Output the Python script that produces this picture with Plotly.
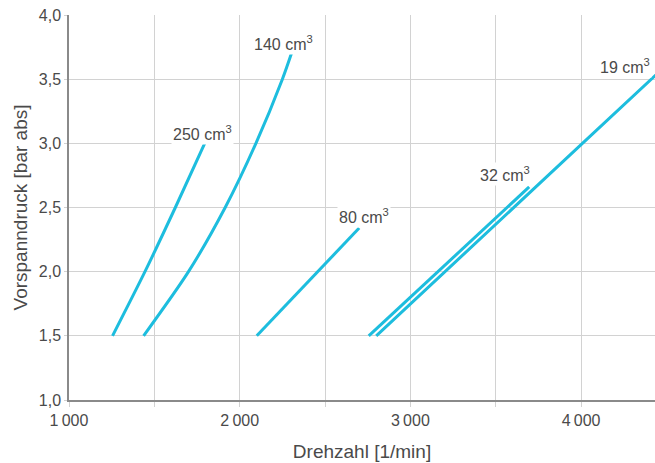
import plotly.graph_objects as go

# ---- data ----
x_250 = [1255, 1445, 1623, 1795]
y_250 = [1.5, 2.0, 2.5, 3.0]

x_140 = [1437, 1700, 1915, 2095, 2250, 2303]
y_140 = [1.5, 2.0, 2.5, 3.0, 3.5, 3.7]

x_80 = [2100, 2700]
y_80 = [1.5, 2.34]

x_32 = [2756, 3696]
y_32 = [1.5, 2.66]

x_19 = [2800, 4000, 4500]
y_19 = [1.5, 2.99, 3.61]

series_names = ["250 cm<sup>3</sup>", "140 cm<sup>3</sup>", "80 cm<sup>3</sup>",
                "32 cm<sup>3</sup>", "19 cm<sup>3</sup>"]
label_x = [1783, 2258, 2727, 3555, 4257]
label_y = [3.08, 3.785, 2.434, 2.762, 3.605]

x_tickvals = [1000, 1500, 2000, 2500, 3000, 3500, 4000]
x_ticktext = ["1\u2009000", "", "2\u2009000", "", "3\u2009000", "", "4\u2009000"]
y_tickvals = [1.0, 1.5, 2.0, 2.5, 3.0, 3.5, 4.0]
y_ticktext = ["1,0", "1,5", "2,0", "2,5", "3,0", "3,5", "4,0"]
y_gridvals = [1.5, 2.0, 2.5, 3.0, 3.5]

LINE = "#1DBDDE"
TXT = "#4a4a4a"
GRID = "#d2d2d2"
AX = "#8a8a8a"
FONT = "Liberation Sans, Arial, sans-serif"
FS = 16

fig = go.Figure()
for xs, ys in [(x_250, y_250), (x_140, y_140), (x_80, y_80), (x_32, y_32), (x_19, y_19)]:
    fig.add_trace(go.Scatter(x=xs, y=ys, mode="lines",
                             line=dict(color=LINE, width=3, shape="spline", smoothing=0.8),
                             showlegend=False, hoverinfo="skip"))
# invisible trace to hold the grid axis
fig.add_trace(go.Scatter(x=[None], y=[None], yaxis="y2", showlegend=False, hoverinfo="skip"))

for t, lx, ly in zip(series_names, label_x, label_y):
    fig.add_annotation(x=lx, y=ly, text=t, showarrow=False,
                       font=dict(family=FONT, size=FS, color=TXT),
                       bgcolor="white", borderpad=1)

fig.update_layout(
    width=655, height=463,
    margin=dict(l=69, r=0, t=15, b=63, autoexpand=False),
    paper_bgcolor="white", plot_bgcolor="white",
    font=dict(family=FONT, size=FS, color=TXT),
    xaxis=dict(range=[1000, 4433], tickmode="array", tickvals=x_tickvals, ticktext=x_ticktext,
               automargin=False,
               showgrid=True, gridcolor=GRID, gridwidth=1, zeroline=False,
               showline=True, linecolor=AX, linewidth=2,
               ticks="outside", ticklen=5, tickcolor=GRID, tickwidth=1,
               title=dict(text="Drehzahl [1/min]", standoff=16),
               tickfont=dict(size=FS, color=TXT)),
    yaxis=dict(range=[1.0, 4.0], tickmode="array", tickvals=y_tickvals, ticktext=y_ticktext,
               automargin=False,
               showgrid=False, zeroline=False,
               showline=True, linecolor=AX, linewidth=1.5,
               ticks="outside", ticklen=3, tickcolor=GRID, tickwidth=1,
               title=dict(text="Vorspanndruck [bar abs]", standoff=6),
               tickfont=dict(size=FS, color=TXT)),
    yaxis2=dict(range=[1.0, 4.0], overlaying="y", tickmode="array", tickvals=y_gridvals,
                automargin=False,
                showgrid=True, gridcolor=GRID, gridwidth=1, showticklabels=False,
                zeroline=False, showline=False, ticks=""),
)

fig.write_html("out.html", config={"displayModeBar": False},
               post_script="document.body.style.margin='0';")
